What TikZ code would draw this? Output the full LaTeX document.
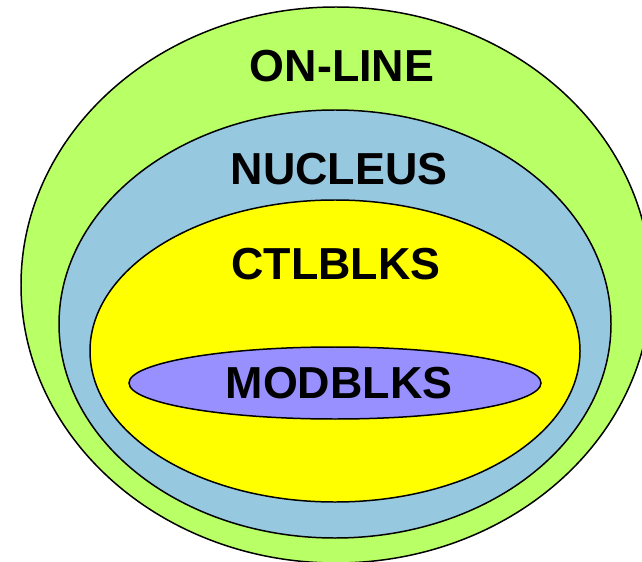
\documentclass[tikz,border=0pt]{standalone}
\usepackage{fontspec}
\setmainfont{Liberation Sans}
\usepackage{tikz}

\definecolor{onlinegreen}{RGB}{185,255,102}
\definecolor{nucleusblue}{RGB}{150,200,224}
\definecolor{ctlyellow}{RGB}{255,255,0}
\definecolor{modpurple}{RGB}{153,144,255}

\begin{document}
\begin{tikzpicture}[x=1bp,y=1bp]
\tikzstyle{every node}+=[inner sep=0pt]
\tikzstyle{layer}=[draw=black, line width=1.5pt]
\tikzstyle{layername}=[font=\fontsize{45}{45}\selectfont\bfseries]
\useasboundingbox (0,0) rectangle (642,-562);
\clip (0,0) rectangle (642,-562);
\draw [layer, fill=onlinegreen] (336,-285) ellipse (315 and 278);
\draw [layer, fill=nucleusblue] (335,-324) ellipse (276 and 214);
\draw [layer, fill=ctlyellow] (335,-351) ellipse (245 and 151);
\draw [layer, fill=modpurple] (335,-383) ellipse (206 and 36);
\draw (342,-66) node [layername] (online) {ON-LINE};
\draw (339,-169) node [layername] (nucleus) {NUCLEUS};
\draw (336,-264) node [layername] (ctlblks) {CTLBLKS};
\draw (339,-383) node [layername] (modblks) {MODBLKS};
\end{tikzpicture}
\end{document}
